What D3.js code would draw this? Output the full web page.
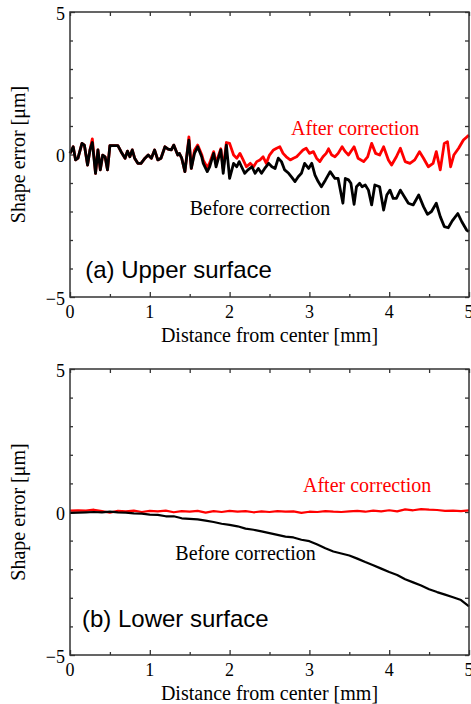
<!DOCTYPE html>
<html>
<head>
<meta charset="utf-8">
<script src="https://cdn.jsdelivr.net/npm/d3@7"></script>
<style>
  body { margin: 0; background: #fff; }
  text { fill: #000; }
</style>
</head>
<body>
<script>
// Shape error before / after correction, upper and lower surface

// upper surface, before correction (black)
const upperBeforeX = [0.00,0.04,0.07,0.10,0.15,0.18,0.22,0.25,0.28,0.32,0.35,0.38,0.41,0.44,0.47,0.50,0.60,0.64,0.69,0.72,0.75,0.78,0.81,0.85,0.89,0.94,0.98,1.02,1.06,1.10,1.14,1.19,1.23,1.27,1.30,1.35,1.37,1.40,1.44,1.47,1.49,1.52,1.56,1.60,1.65,1.67,1.72,1.75,1.80,1.83,1.89,1.92,1.96,2.00,2.05,2.09,2.12,2.15,2.19,2.23,2.28,2.32,2.36,2.40,2.44,2.49,2.53,2.57,2.61,2.65,2.69,2.74,2.78,2.82,2.86,2.90,2.94,2.99,3.03,3.07,3.11,3.15,3.20,3.26,3.32,3.36,3.42,3.45,3.49,3.52,3.56,3.59,3.63,3.66,3.70,3.74,3.78,3.82,3.88,3.93,3.97,4.01,4.05,4.09,4.14,4.19,4.24,4.30,4.37,4.43,4.48,4.53,4.59,4.64,4.69,4.74,4.79,4.86,4.91,4.97,5.00];
const upperBeforeY = [0.04,0.27,-0.19,-0.13,0.39,0.33,-0.37,0.16,0.42,-0.66,0.16,-0.54,-0.02,-0.08,-0.54,0.31,0.31,0.10,-0.13,0.12,-0.08,0.16,-0.13,-0.31,-0.31,-0.13,-0.02,-0.13,0.16,-0.19,-0.13,0.27,0.19,0.16,0.33,-0.02,0.04,-0.13,-0.60,0.10,0.50,-0.49,0.04,0.27,-0.08,-0.31,-0.60,-0.43,0.04,-0.43,0.16,-0.66,0.33,-0.84,-0.31,-0.43,-0.25,-0.43,-0.66,-0.54,-0.43,-0.66,-0.49,-0.66,-0.49,-0.31,-0.43,-0.49,-0.13,-0.25,-0.54,-0.66,-0.80,-0.95,-0.78,-0.66,-0.31,-0.49,-0.31,-0.72,-0.95,-1.13,-0.90,-0.60,-0.84,-0.84,-1.71,-0.84,-0.89,-1.01,-1.75,-1.13,-1.01,-1.13,-1.07,-1.25,-1.77,-1.07,-1.13,-1.95,-1.42,-1.25,-1.54,-1.54,-1.25,-1.48,-1.71,-1.77,-1.42,-1.83,-2.10,-2.00,-1.71,-2.18,-2.53,-2.57,-2.33,-2.07,-2.36,-2.65,-2.71];

// upper surface, after correction (red)
const upperAfterX = [0.00,0.04,0.07,0.10,0.15,0.18,0.22,0.25,0.28,0.32,0.35,0.38,0.41,0.44,0.47,0.50,0.60,0.64,0.69,0.72,0.75,0.78,0.81,0.85,0.89,0.94,0.98,1.02,1.06,1.10,1.14,1.19,1.23,1.27,1.30,1.35,1.37,1.40,1.44,1.47,1.49,1.52,1.56,1.60,1.65,1.67,1.72,1.75,1.80,1.83,1.89,1.92,1.96,2.00,2.05,2.09,2.13,2.17,2.21,2.26,2.30,2.34,2.38,2.42,2.46,2.50,2.55,2.59,2.63,2.67,2.71,2.76,2.80,2.84,2.88,2.92,2.96,3.00,3.05,3.09,3.13,3.17,3.21,3.24,3.28,3.32,3.36,3.41,3.45,3.49,3.56,3.61,3.68,3.73,3.78,3.83,3.88,3.93,3.99,4.03,4.09,4.14,4.20,4.26,4.32,4.38,4.43,4.49,4.55,4.59,4.64,4.69,4.73,4.77,4.81,4.87,4.93,5.00];
const upperAfterY = [0.04,0.27,-0.19,-0.13,0.39,0.33,-0.37,0.16,0.55,-0.66,0.16,-0.54,-0.02,-0.08,-0.54,0.31,0.31,0.10,-0.13,0.12,-0.08,0.16,-0.13,-0.31,-0.31,-0.13,-0.02,-0.13,0.16,-0.19,-0.13,0.27,0.19,0.16,0.33,-0.02,0.04,-0.13,-0.60,0.10,0.62,-0.49,0.15,0.33,0.00,-0.20,-0.45,-0.30,0.10,-0.30,0.20,-0.50,0.42,0.39,-0.02,-0.13,0.04,-0.19,-0.43,-0.31,-0.43,-0.25,-0.19,-0.08,-0.31,-0.02,0.16,0.22,0.27,0.04,-0.08,-0.19,-0.13,-0.08,0.04,0.16,0.22,0.04,0.10,-0.13,-0.25,-0.08,0.04,0.20,-0.02,-0.08,0.04,0.27,0.10,-0.02,0.27,-0.13,-0.25,-0.08,0.39,0.04,-0.02,0.27,-0.19,-0.37,-0.08,0.22,-0.25,-0.31,-0.19,0.10,-0.13,-0.43,-0.31,0.10,-0.54,0.39,0.45,-0.43,-0.02,0.22,0.51,0.68];

// lower surface, both series on a 0.1 mm grid
const lowerX = [0.0,0.1,0.2,0.3,0.4,0.5,0.6,0.7,0.8,0.9,1.0,1.1,1.2,1.3,1.4,1.5,1.6,1.7,1.8,1.9,2.0,2.1,2.2,2.3,2.4,2.5,2.6,2.7,2.8,2.9,3.0,3.1,3.2,3.3,3.4,3.5,3.6,3.7,3.8,3.9,4.0,4.1,4.2,4.3,4.4,4.5,4.6,4.7,4.8,4.9,5.0];
const lowerBeforeY = [-0.03,-0.02,-0.01,0.00,-0.01,0.01,-0.01,-0.02,-0.05,-0.06,-0.09,-0.10,-0.15,-0.15,-0.22,-0.24,-0.26,-0.30,-0.35,-0.41,-0.45,-0.50,-0.58,-0.62,-0.68,-0.74,-0.80,-0.86,-0.89,-0.97,-1.02,-1.14,-1.27,-1.38,-1.45,-1.52,-1.63,-1.75,-1.86,-1.98,-2.10,-2.20,-2.35,-2.46,-2.57,-2.70,-2.80,-2.89,-2.98,-3.08,-3.30];
const lowerAfterY = [0.05,0.06,0.05,0.08,0.03,-0.02,0.04,0.02,0.05,0.00,0.04,0.02,0.05,-0.01,0.03,0.01,0.04,-0.02,0.03,0.00,0.04,0.01,0.03,-0.01,0.02,0.00,0.03,0.01,0.02,-0.03,0.01,0.00,0.03,0.01,0.00,0.02,0.04,0.01,0.05,0.02,0.06,0.02,0.09,0.06,0.10,0.08,0.07,0.04,0.05,0.03,0.06];

const xTicks = [0, 1, 2, 3, 4, 5];
const xMinorTicks = [0.5, 1.5, 2.5, 3.5, 4.5];
const yTicks = [-5, 0, 5];
const yMinorTicks = [-4, -3, -2, -1, 1, 2, 3, 4];

const width = 471, height = 704;
const left = 70, right = 469;

const svg = d3.select("body").append("svg")
    .attr("width", width)
    .attr("height", height);

const x = d3.scaleLinear().domain([0, 5]).range([left, right]);

const panels = [
  { top: 12, bottom: 297, name: "(a) Upper surface", nameAt: [0.19, -4.33],
    after: upperAfterX.map((d, i) => [d, upperAfterY[i]]),
    before: upperBeforeX.map((d, i) => [d, upperBeforeY[i]]),
    afterAt: [2.77, 0.68], beforeAt: [1.5, -2.12], width: 2.8 },
  { top: 369, bottom: 655, name: "(b) Lower surface", nameAt: [0.15, -4.02],
    after: lowerX.map((d, i) => [d, lowerAfterY[i]]),
    before: lowerX.map((d, i) => [d, lowerBeforeY[i]]),
    afterAt: [2.92, 0.70], beforeAt: [1.32, -1.68], width: 2.2 }
];

const serif = "'Liberation Serif', 'Times New Roman', serif";
const sans = "'Liberation Sans', Arial, sans-serif";

panels.forEach(p => {
  const y = d3.scaleLinear().domain([-5, 5]).range([p.bottom, p.top]);
  const g = svg.append("g");

  // ticks on all four sides, pointing inward
  const axes = [
    [d3.axisBottom(x).tickValues(xTicks).tickSize(-5), `translate(0,${p.bottom})`],
    [d3.axisBottom(x).tickValues(xMinorTicks).tickSize(-3), `translate(0,${p.bottom})`],
    [d3.axisTop(x).tickValues(xTicks.concat(xMinorTicks)).tickSize(-4), `translate(0,${p.top})`],
    [d3.axisLeft(y).tickValues(yTicks).tickSize(-5), `translate(${left},0)`],
    [d3.axisLeft(y).tickValues(yMinorTicks).tickSize(-3), `translate(${left},0)`],
    [d3.axisRight(y).tickValues(yTicks.concat(yMinorTicks)).tickSize(-4), `translate(${right},0)`]
  ];
  axes.forEach(([ax, tr]) => {
    const a = g.append("g").attr("transform", tr)
      .call(ax.tickFormat("").tickSizeOuter(0));
    a.select(".domain").remove();
    a.selectAll("line").attr("stroke", "#333").attr("stroke-width", 1.3);
  });

  // tick labels (the last x label is clipped by the edge, as in the original)
  g.selectAll(".xl").data(xTicks).join("text")
    .attr("x", d => x(d)).attr("y", p.bottom + 21)
    .attr("text-anchor", "middle")
    .style("font-family", serif).style("font-size", "18px")
    .text(d => d);
  g.selectAll(".yl").data(yTicks).join("text")
    .attr("x", left - 5).attr("y", d => y(d) + 7.5)
    .attr("text-anchor", "end")
    .style("font-family", serif).style("font-size", "18px")
    .text(d => d < 0 ? "\u2212" + Math.abs(d) : d);

  // lines
  const line = d3.line().x(d => x(d[0])).y(d => y(d[1]));
  g.append("path").datum(p.after)
    .attr("d", line).attr("fill", "none")
    .attr("stroke", "#ff0000").attr("stroke-width", p.width)
    .attr("stroke-linejoin", "round");
  g.append("path").datum(p.before)
    .attr("d", line).attr("fill", "none")
    .attr("stroke", "#000").attr("stroke-width", p.width)
    .attr("stroke-linejoin", "round");

  // frame
  g.append("rect")
    .attr("x", left).attr("y", p.top)
    .attr("width", right - left).attr("height", p.bottom - p.top)
    .attr("fill", "none").attr("stroke", "#333").attr("stroke-width", 1.5);

  // annotations
  g.append("text")
    .attr("x", x(p.afterAt[0])).attr("y", y(p.afterAt[1]))
    .style("font-family", serif).style("font-size", "20px")
    .style("fill", "#ff0000")
    .text("After correction");
  g.append("text")
    .attr("x", x(p.beforeAt[0])).attr("y", y(p.beforeAt[1]))
    .style("font-family", serif).style("font-size", "20px")
    .text("Before correction");
  g.append("text")
    .attr("x", x(p.nameAt[0])).attr("y", y(p.nameAt[1]))
    .style("font-family", sans).style("font-size", "24px")
    .text(p.name);

  // axis titles
  g.append("text")
    .attr("x", (left + right) / 2).attr("y", p.bottom + 45)
    .attr("text-anchor", "middle")
    .style("font-family", serif).style("font-size", "20px")
    .text("Distance from center [mm]");
  g.append("text")
    .attr("transform", `translate(25,${(p.top + p.bottom) / 2}) rotate(-90)`)
    .attr("text-anchor", "middle")
    .style("font-family", serif).style("font-size", "20px")
    .text("Shape error [\u03bcm]");
});
</script>
</body>
</html>
